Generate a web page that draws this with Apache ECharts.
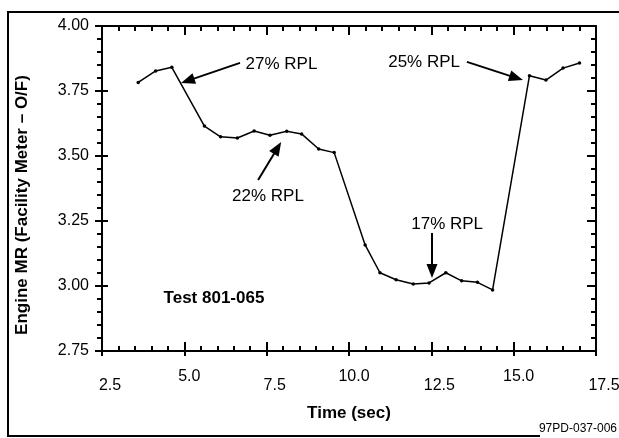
<!DOCTYPE html>
<html><head><meta charset="utf-8">
<script src="https://cdn.jsdelivr.net/npm/echarts@6/dist/echarts.min.js"></script>
<style>html,body{margin:0;padding:0;background:#fff}#c{width:619px;height:438px}</style>
</head><body><div id="c"></div>
<script>
// ---- data ----
const timeSec = [3.60, 4.13, 4.62, 5.61, 6.10, 6.61, 7.12, 7.60, 8.11, 8.56, 9.08, 9.55,
  10.49, 10.94, 11.43, 11.95, 12.43, 12.94, 13.42, 13.90, 14.36, 15.48, 15.98, 16.50, 17.00];
const engineMR = [3.783, 3.827, 3.841, 3.615, 3.574, 3.569, 3.596, 3.580, 3.595, 3.585, 3.527, 3.513,
  3.158, 3.051, 3.024, 3.008, 3.012, 3.051, 3.020, 3.014, 2.985, 3.809, 3.792, 3.838, 3.858];
const xTickLabels = ['2.5', '5.0', '7.5', '10.0', '12.5', '15.0', '17.5'];
const yTickLabels = ['2.75', '3.00', '3.25', '3.50', '3.75', '4.00'];
const xTitle = 'Time (sec)';
const yTitle = 'Engine MR (Facility Meter \u2013 O/F)';
const testLabel = 'Test 801-065';
const figureId = '97PD-037-006';
const noteTexts = ['27% RPL', '25% RPL', '22% RPL', '17% RPL'];

// ---- layout (data-space anchors for annotations) ----
const noteLayout = [
  {text: [7.95, 3.854], tail: [6.69, 3.858], tip: [4.90, 3.781]},
  {text: [12.28, 3.862], tail: [13.58, 3.862], tip: [15.28, 3.792]},
  {text: [7.54, 3.346], tail: [7.24, 3.408], tip: [7.94, 3.554]},
  {text: [12.98, 3.238], tail: [12.52, 3.204], tip: [12.52, 3.031]}
];
const testLabelAt = [4.37, 2.954];

const FONT = "'Liberation Sans', Arial, Helvetica, sans-serif";
const xMin = 2.5, xMax = 17.5, xInt = 2.5;
const yMin = 2.75, yMax = 4.0, yInt = 0.25;
const gridRect = {left: 102, right: 23, top: 26, bottom: 87, outerBoundsMode: 'none', containLabel: false};

const chart = echarts.init(document.getElementById('c'));
const TICK = '#000';
function xAxisDef(o) {
  return Object.assign({type: 'value', min: xMin, max: xMax, interval: xInt, splitLine: {show: false}}, o);
}
function yAxisDef(o) {
  return Object.assign({type: 'value', min: yMin, max: yMax, interval: yInt, splitLine: {show: false}}, o);
}
function xLabel(v) {
  const i = Math.round((v - xMin) / xInt);
  const s = xTickLabels[i] != null ? xTickLabels[i] : v.toFixed(1);
  return (i % 2 === 0) ? '{lo|' + s + '}' : '{hi|' + s + '}';
}
function yLabel(v) {
  const i = Math.round((v - yMin) / yInt);
  return yTickLabels[i] != null ? yTickLabels[i] : v.toFixed(2);
}

chart.setOption({
  animation: false,
  grid: [Object.assign({}, gridRect), Object.assign({}, gridRect)],
  xAxis: [
    xAxisDef({
      gridIndex: 0, position: 'bottom',
      axisLine: {show: true, lineStyle: {color: '#000', width: 2}},
      axisTick: {show: true, inside: true, length: 9, lineStyle: {color: TICK, width: 2}},
      minorTick: {show: true, splitNumber: 5, length: 5, lineStyle: {color: TICK, width: 2}},
      axisLabel: {show: true, margin: 18, formatter: xLabel, color: '#000', fontFamily: FONT, fontSize: 16,
        rich: {
          lo: {fontFamily: FONT, fontSize: 16, color: '#000', padding: [9, 0, 0, 16]},
          hi: {fontFamily: FONT, fontSize: 16, color: '#000', padding: [0, 0, 0, 10]}
        }}
    }),
    xAxisDef({
      gridIndex: 0, position: 'top',
      axisLine: {show: true, lineStyle: {color: '#000', width: 2}},
      axisTick: {show: true, inside: true, length: 9, lineStyle: {color: TICK, width: 2}},
      minorTick: {show: true, splitNumber: 5, length: 5, lineStyle: {color: TICK, width: 2}},
      axisLabel: {show: false}
    }),
    xAxisDef({
      gridIndex: 1, position: 'bottom',
      axisLine: {show: false},
      axisTick: {show: true, inside: false, length: 5, lineStyle: {color: TICK, width: 2}},
      axisLabel: {show: false}
    })
  ],
  yAxis: [
    yAxisDef({
      gridIndex: 0, position: 'left',
      axisLine: {show: true, lineStyle: {color: '#000', width: 2}},
      axisTick: {show: true, inside: false, length: 7, lineStyle: {color: TICK, width: 2}},
      minorTick: {show: true, splitNumber: 5, length: 5, lineStyle: {color: TICK, width: 2}},
      axisLabel: {show: true, margin: 13, formatter: yLabel, color: '#000', fontFamily: FONT, fontSize: 16}
    }),
    yAxisDef({
      gridIndex: 0, position: 'right',
      axisLine: {show: true, lineStyle: {color: '#000', width: 2}},
      axisTick: {show: true, inside: true, length: 9, lineStyle: {color: TICK, width: 2}},
      minorTick: {show: true, splitNumber: 5, length: 5, lineStyle: {color: TICK, width: 2}},
      axisLabel: {show: false}
    }),
    yAxisDef({
      gridIndex: 1, position: 'left',
      axisLine: {show: false},
      axisTick: {show: true, inside: true, length: 6, lineStyle: {color: TICK, width: 2}},
      axisLabel: {show: false}
    })
  ],
  series: [{
    type: 'line',
    xAxisIndex: 0, yAxisIndex: 0,
    data: timeSec.map((t, i) => [t, engineMR[i]]),
    symbol: 'circle', symbolSize: 3.5,
    itemStyle: {color: '#000'},
    lineStyle: {color: '#000', width: 1.5},
    z: 5
  }]
});

const px = p => chart.convertToPixel({gridIndex: 0}, p);
const g = [];
function arrow(tailD, tipD) {
  const a = px(tailD), b = px(tipD);
  const dx = b[0] - a[0], dy = b[1] - a[1];
  const L = Math.sqrt(dx * dx + dy * dy);
  const ux = dx / L, uy = dy / L;
  const hl = 14, hw = 5.5;
  const bx = b[0] - ux * hl, by = b[1] - uy * hl;
  g.push({type: 'line', shape: {x1: a[0], y1: a[1], x2: bx + ux * 2, y2: by + uy * 2},
    style: {stroke: '#000', lineWidth: 2}, z: 10});
  g.push({type: 'polygon', shape: {points: [[b[0], b[1]], [bx - uy * hw, by + ux * hw], [bx + uy * hw, by - ux * hw]]},
    style: {fill: '#000'}, z: 10});
}
noteTexts.forEach((t, i) => {
  const L = noteLayout[i];
  const p = px(L.text);
  g.push({type: 'text', x: p[0], y: p[1], z: 10,
    style: {text: t, fill: '#000', font: '17px ' + FONT, align: 'center', verticalAlign: 'middle'}});
  arrow(L.tail, L.tip);
});
const tp = px(testLabelAt);
g.push({type: 'text', x: tp[0], y: tp[1], z: 10,
  style: {text: testLabel, fill: '#000', font: 'bold 17px ' + FONT, align: 'left', verticalAlign: 'middle'}});
const mid = px([(xMin + xMax) / 2, yMin]);
g.push({type: 'text', x: mid[0], y: 413, z: 10,
  style: {text: xTitle, fill: '#000', font: 'bold 17px ' + FONT, align: 'center', verticalAlign: 'middle'}});
g.push({type: 'text', x: 22, y: 205, rotation: Math.PI / 2, z: 10,
  style: {text: yTitle, fill: '#000', font: 'bold 17px ' + FONT, align: 'center', verticalAlign: 'middle'}});
g.push({type: 'text', x: 617, y: 429, z: 10,
  style: {text: figureId, fill: '#000', font: '12px ' + FONT, align: 'right', verticalAlign: 'middle'}});
g.push({type: 'polyline', shape: {points: [[619, 12], [8, 12], [8, 436], [540, 436]]},
  style: {stroke: '#000', lineWidth: 2}, z: 1});
chart.setOption({graphic: g});
</script></body></html>
